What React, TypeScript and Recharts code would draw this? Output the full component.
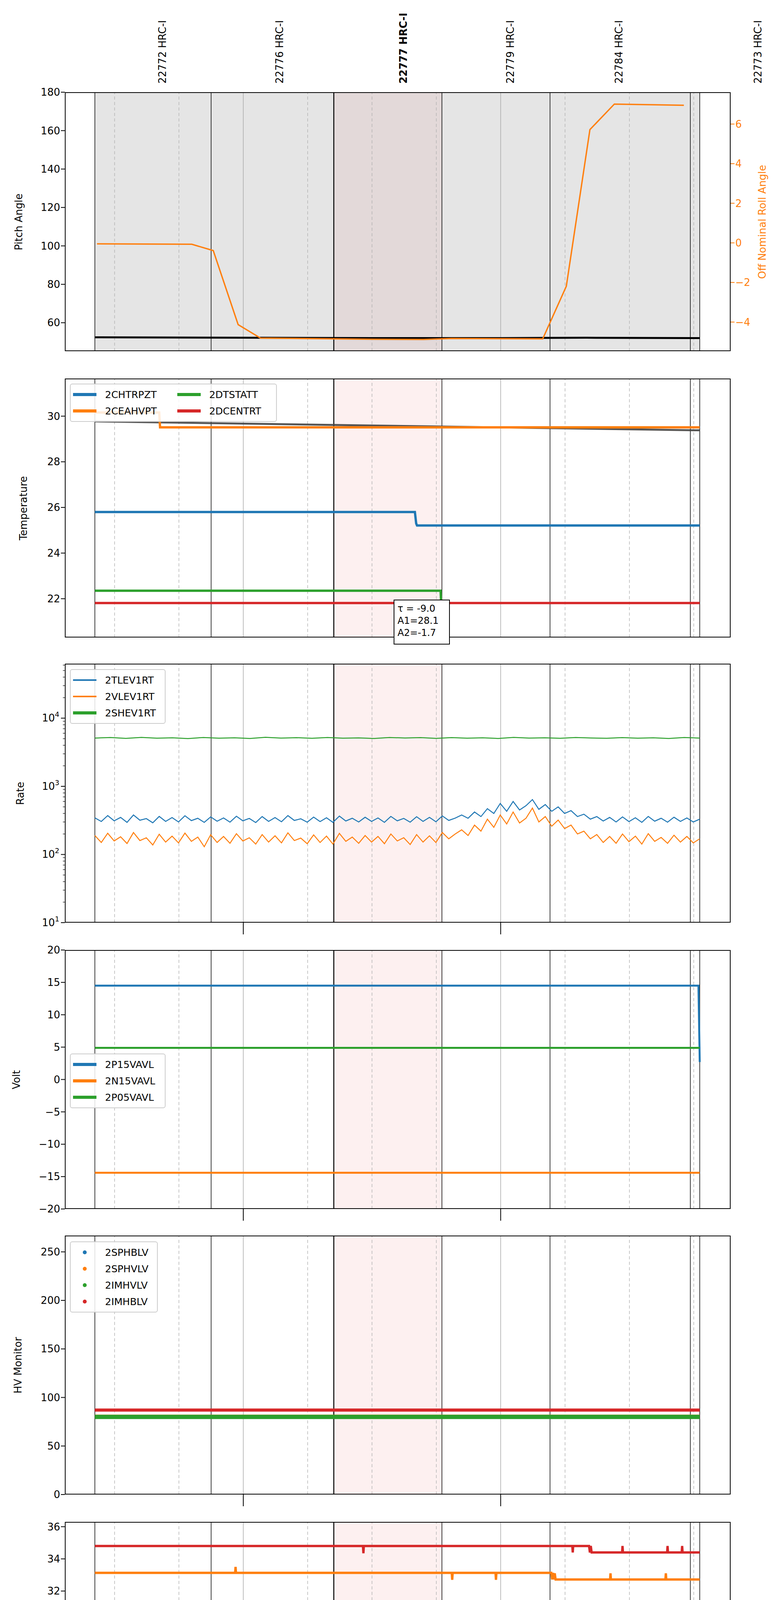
import React from "react";
import { ComposedChart, Line, XAxis, YAxis, ReferenceArea, ReferenceLine } from "recharts";

const F = "DejaVu Sans, sans-serif";
const T0 = 18.4;
const T1 = 173.6;
const LEFT = 166;
const PLOT_W = 1705;
const PANEL_H = 663;
const TOPS = [236, 969, 1699, 2432, 3163, 3896, 4628];

const C = { blue: "#1f77b4", orange: "#ff7f0e", green: "#2ca02c", red: "#d62728" };

// time in minutes after 22:00
const MINUTE_TICKS = [30, 45, 60, 75, 90, 105, 120, 135, 150, 165];
const OBS_LINES = [25.4, 52.5, 81.1, 106.3, 131.5, 164.2, 166.4];
const DATA_START = 25.4;
const DATA_END = 166.4;
const FOCUS = [81.1, 106.3];
const OBS_LABELS = ["22772 HRC-I", "22776 HRC-I", "22777 HRC-I", "22779 HRC-I", "22784 HRC-I", "22773 HRC-I"];
const OBS_LABEL_T = [41.2, 68.5, 97.3, 122.3, 147.6, 180];
const RATE_TICKS = [10, 20, 30, 40, 50, 60, 70, 80, 90, 100, 200, 300, 400, 500, 600, 700, 800, 900, 1000, 2000, 3000, 4000, 5000, 6000, 7000, 8000, 9000, 10000, 20000, 30000, 40000, 50000, 60000];

// pitch / roll
const pitch = [[25.4, 52.4], [60, 52.2], [90, 52.0], [120, 52.0], [140, 52.2], [166.4, 52.0]];
const roll = [[25.9, -0.05], [48.0, -0.07], [53.0, -0.39], [58.8, -4.13], [64.0, -4.81], [90.4, -4.87], [102, -4.88], [108.5, -4.83], [129.8, -4.85], [135.3, -2.19], [140.8, 5.72], [146.5, 7.01], [162.7, 6.95]];

// temperature
const tempRef = [[25.4, 29.77], [166.4, 29.38]];
const chtrpzt = [[25.4, 25.8], [100.0, 25.8], [100.3, 25.3], [100.5, 25.21], [166.4, 25.21]];
const ceahvpt = [[25.4, 30.16], [40.4, 30.16], [40.6, 29.51], [166.4, 29.51]];
const dtstatt = [[25.4, 22.35], [106.0, 22.35], [106.2, 21.4]];
const dcentrt = [[25.4, 21.81], [166.4, 21.81]];

// rates
const tlev1rt = [345,305,372,312,350,296,380,318,336,292,362,306,348,300,370,314,340,296,356,308,344,298,364,312,338,294,360,306,348,302,372,316,334,298,354,304,346,296,366,310,340,300,352,306,344,296,362,312,338,298,358,306,350,302,368,316,342,380,340,420,360,470,400,560,430,600,450,520,640,460,540,430,500,400,440,360,390,330,360,310,350,300,356,304,346,296,362,308,340,298,352,306,344,300,330];
const vlev1rt = [190,150,205,158,182,145,210,160,176,138,198,152,186,148,206,156,180,130,195,150,184,146,202,158,176,142,196,152,188,148,208,160,174,144,194,150,186,142,204,156,180,146,190,152,184,144,200,158,176,140,196,152,188,150,210,170,200,230,190,270,220,330,250,380,280,420,290,340,480,300,360,260,320,240,270,200,220,170,196,150,184,146,200,154,186,142,202,156,178,146,192,152,184,148,170];
const shev1rt = [5100,5200,5050,5220,5080,5160,5020,5210,5090,5150,5040,5230,5100,5170,5060,5200,5080,5140,5030,5210,5110,5180,5050,5190,5090,5160,5040,5220,5100,5150,5070,5200,5120,5060,5180,5090,5150,5040,5210,5100];

// volts
const p15vavl = [[25.4, 14.5], [166.1, 14.5], [166.4, 2.7]];
const n15vavl = [[25.4, -14.4], [166.4, -14.4]];
const p05vavl = [[25.4, 4.88], [166.4, 4.88]];

// HV monitor
const sphblv = [[25.4, 80], [166.4, 80]];
const sphvlv = [[25.4, 80.5], [166.4, 80.5]];
const imhvlv = [[25.4, 80], [166.4, 80]];
const imhblv = [[25.4, 87], [166.4, 87]];

// detector temp
const spinatm = [[25.4,23.15],[46.2,23.15],[46.3,22.4],[46.4,23.15],[55.8,23.15],[55.9,22.4],[56.0,23.15],[58.4,23.15],[58.5,22.4],[58.6,23.15],[59.9,23.15],[60.0,22.41],[60.5,23.15],[61.0,22.41],[61.5,23.15],[62.0,22.41],[62.5,23.15],[63.0,22.41],[63.5,23.15],[64.0,22.41],[65.5,22.41],[65.6,23.15],[65.7,22.41],[166.4,22.41]];
const sphvatm = [[25.4,33.13],[58.1,33.13],[58.2,33.5],[58.3,33.13],[108.6,33.13],[108.7,32.7],[108.8,33.13],[118.8,33.13],[118.9,32.7],[119.0,33.13],[131.8,33.13],[132.0,32.72],[132.2,33.13],[132.4,32.72],[132.6,33.1],[132.8,32.72],[145.5,32.72],[145.6,33.1],[145.7,32.72],[158.4,32.72],[158.5,33.1],[158.6,32.72],[166.4,32.72]];
const iminatm = [[25.4, 21.68], [166.4, 21.68]];
const imhvatm = [[25.4,34.8],[87.9,34.8],[88.0,34.35],[88.1,34.8],[136.7,34.8],[136.8,34.4],[136.9,34.8],[140.6,34.8],[140.8,34.4],[141.0,34.8],[141.2,34.4],[148.3,34.4],[148.4,34.8],[148.5,34.4],[158.8,34.4],[158.9,34.8],[159.0,34.4],[162.2,34.4],[162.3,34.8],[162.4,34.4],[166.4,34.4]];

// FEA temp
const fhtrmzt = [[25.4,24.04],[51.4,24.04],[51.7,23.47],[75.3,23.47],[75.5,22.8],[75.7,23.47],[76.0,23.47],[76.2,22.3],[76.4,23.47],[136.3,23.47],[136.6,22.91],[166.4,22.91]];
const fradpyt = [[25.4,18.65],[118.5,18.65],[118.7,18.14],[154.7,18.14],[154.9,17.66],[166.4,17.66]];
const fepratm = [[25.4,26.17],[89.6,26.17],[89.9,25.39],[166.4,25.39]];
const fe00atm = [[25.4,23.3],[28.8,23.3],[28.9,22.3],[29.0,23.3],[49.6,23.3],[49.7,22.9],[49.8,23.3],[51.0,23.3],[51.3,22.98],[53.3,22.98],[53.4,23.3],[53.5,22.98],[63.2,22.98],[63.3,23.3],[63.4,22.98],[77.8,22.98],[77.9,23.7],[78.0,22.98],[104.0,22.98],[104.1,22.6],[104.2,22.98],[108.9,22.98],[109.0,22.3],[109.1,22.98],[114.1,22.98],[114.2,22.3],[114.3,22.98],[115.3,22.98],[115.5,22.64],[117.0,22.64],[117.1,23.0],[117.3,22.64],[118.5,22.64],[118.6,23.0],[118.8,22.64],[120.0,22.64],[120.1,23.0],[120.3,22.64],[122.0,22.64],[122.1,23.0],[122.3,22.64],[124.5,22.64],[124.6,22.3],[124.7,22.64],[127.4,22.64],[127.5,23.3],[127.6,22.64],[128.8,22.64],[128.9,22.3],[129.0,22.64],[156.0,22.64],[156.1,22.0],[156.2,22.64],[163.4,22.64],[163.6,22.33],[166.4,22.33]];

const pts = (a: number[][]) => a.map(([t, v]) => ({ t, v }));
const sampled = (vals: number[]) =>
  vals.map((v, i) => ({ t: DATA_START + (i * (DATA_END - DATA_START)) / (vals.length - 1), v }));

function TimeTick(props: any) {
  const { x, y, payload, mode } = props;
  const v = payload.value;
  const major = v === 60 || v === 120;
  if (mode === "none") return <g />;
  if (mode === "marks") {
    return major ? <line x1={x} x2={x} y1={y} y2={y + 30} stroke="#000" strokeWidth={2} /> : <g />;
  }
  if (major) {
    return (
      <g>
        <line x1={x} x2={x} y1={y} y2={y + 30} stroke="#000" strokeWidth={2} />
        <text x={x} y={y + 58} textAnchor="middle" fontSize={27} fontFamily={F}>{v === 60 ? "23h" : "00h"}</text>
      </g>
    );
  }
  return (
    <text x={x} y={y + 24} textAnchor="middle" fontSize={19} fontFamily={F}>{String(v % 60).padStart(2, "0")}</text>
  );
}

function LogTick(props: any) {
  const { x, y, payload } = props;
  const lg = Math.log10(payload.value);
  const e = Math.round(lg);
  const decade = Math.abs(lg - e) < 1e-6;
  return (
    <g>
      <line x1={x - (decade ? 10 : 5)} x2={x} y1={y} y2={y} stroke="#000" strokeWidth={decade ? 2 : 1.2} />
      {decade && (
        <text x={x - 14} y={y + 9} textAnchor="end" fontSize={26} fontFamily={F}>
          10<tspan dy={-12} fontSize={18}>{e}</tspan>
        </text>
      )}
    </g>
  );
}

function background(top: boolean, yId: any = 0) {
  const els: any[] = [];
  if (top) els.push(<ReferenceArea key="g" yAxisId={yId} x1={DATA_START} x2={DATA_END} fill="#e5e5e5" fillOpacity={1} stroke="none" />);
  els.push(<ReferenceArea key="p" yAxisId={yId} x1={FOCUS[0]} x2={FOCUS[1]} fill={top ? "#e3d9d9" : "#fdf0f0"} fillOpacity={1} stroke="none" />);
  MINUTE_TICKS.forEach((t) => {
    const major = t === 60 || t === 120;
    els.push(<ReferenceLine key={"m" + t} yAxisId={yId} x={t} stroke={major ? "#aaa" : "#b5b5b5"} strokeWidth={1.5} strokeDasharray={major ? undefined : "8 6"} />);
  });
  OBS_LINES.forEach((t, i) => {
    els.push(<ReferenceLine key={"o" + t} yAxisId={yId} x={t} stroke="#000" strokeWidth={i === 2 ? 2.5 : 1.5} />);
  });
  return els;
}

function xAxis(mode: string) {
  return (
    <XAxis type="number" dataKey="t" domain={[T0, T1]} ticks={MINUTE_TICKS} interval={0} allowDataOverflow
      axisLine={false} tickLine={false} tickSize={0} tickMargin={0} height={mode === "full" ? 90 : 40}
      tick={<TimeTick mode={mode} />} />
  );
}

function yAxis(domain: number[], ticks: number[], extra: any = {}) {
  return (
    <YAxis domain={domain} ticks={ticks} allowDataOverflow width={80} axisLine={false} interval={0}
      tickSize={10} tickLine={{ stroke: "#000", strokeWidth: 2 }}
      tick={{ fontSize: 26, fill: "#000", fontFamily: F }} {...extra} />
  );
}

function line(data: any[], color: string, w: number, extra: any = {}) {
  return <Line data={data} dataKey="v" type="linear" stroke={color} strokeWidth={w} dot={false} isAnimationActive={false} {...extra} />;
}

function Frame({ i }: { i: number }) {
  return <div style={{ position: "absolute", left: LEFT, top: TOPS[i], width: PLOT_W, height: PANEL_H, border: "2.5px solid #000", boxSizing: "border-box", pointerEvents: "none" }} />;
}

function YLabel({ i, text, x = 50, color = "#000" }: { i: number; text: string; x?: number; color?: string }) {
  return (
    <div style={{ position: "absolute", left: x, top: TOPS[i] + PANEL_H / 2, fontFamily: F, fontSize: 26, color, whiteSpace: "nowrap", transform: "translate(-50%,-50%) rotate(-90deg)" }}>{text}</div>
  );
}

type Item = { name: string; color: string; dot?: boolean };
function Legend({ left, top, items, cols = 1, width }: { left: number; top: number; items: Item[]; cols?: number; width: number }) {
  return (
    <div style={{ position: "absolute", left, top, width, background: "rgba(255,255,255,0.85)", border: "2px solid #ccc", borderRadius: 6, padding: "8px 6px", boxSizing: "border-box", display: "grid", gridTemplateColumns: `repeat(${cols}, auto)`, rowGap: 6, columnGap: 20, fontFamily: F, fontSize: 25 }}>
      {items.map((it) => (
        <div key={it.name} style={{ display: "flex", alignItems: "center", height: 36 }}>
          {it.dot ? (
            <div style={{ width: 60, display: "flex", justifyContent: "center" }}>
              <div style={{ width: 10, height: 10, borderRadius: 5, background: it.color }} />
            </div>
          ) : (
            <div style={{ width: 60, height: it.name.includes("LEV") ? 4 : 8, background: it.color }} />
          )}
          <span style={{ marginLeft: 22 }}>{it.name}</span>
        </div>
      ))}
    </div>
  );
}

function Panel({ i, children, chartTop = 20, full = false, right = 129 }: any) {
  const bottom = full ? 110 : 60;
  const h = PANEL_H + chartTop + bottom;
  return (
    <div style={{ position: "absolute", left: 0, top: TOPS[i] - chartTop }}>
      <ComposedChart width={2000} height={h} margin={{ top: chartTop, right, bottom: bottom - (full ? 90 : 40), left: LEFT - 80 }}>
        {children}
      </ComposedChart>
    </div>
  );
}

function ObsLabel(props: any) {
  const { viewBox, text, bold } = props;
  const x = viewBox.x + 9;
  const y = TOPS[0] - 22;
  return (
    <text x={x} y={y} transform={`rotate(-90 ${x} ${y})`} fontSize={26} fontFamily={F} fontWeight={bold ? "bold" : "normal"}>{text}</text>
  );
}

const minusFmt = (v: number) => (v < 0 ? "\u2212" + Math.abs(v) : String(v));

export default function App() {
  return (
    <div style={{ position: "relative", margin: -8, width: 2000, height: 5400, background: "#fff", overflow: "hidden" }}>
      {/* Pitch / roll */}
      <Panel i={0} chartTop={236} right={49}>
        {background(true, "l")}
        {OBS_LABEL_T.map((t, k) => (
          <ReferenceLine key={"l" + k} yAxisId="l" x={t} stroke="none" ifOverflow="visible" label={<ObsLabel text={OBS_LABELS[k]} bold={k === 2} />} />
        ))}
        {xAxis("none")}
        {yAxis([45.2, 180], [60, 80, 100, 120, 140, 160, 180], { yAxisId: "l" })}
        <YAxis yAxisId="r" orientation="right" domain={[-5.47, 7.61]} ticks={[-4, -2, 0, 2, 4, 6]} allowDataOverflow width={80}
          axisLine={false} tickSize={10} tickLine={{ stroke: C.orange, strokeWidth: 2 }} tick={{ fontSize: 26, fill: C.orange, fontFamily: F }}
          tickFormatter={minusFmt} />
        {line(pts(pitch), "#000", 5, { yAxisId: "l" })}
        {line(pts(roll), C.orange, 3.5, { yAxisId: "r" })}
      </Panel>
      <Frame i={0} />
      <YLabel i={0} text="Pitch Angle" x={48} />
      <YLabel i={0} text="Off Nominal Roll Angle" x={1952} color={C.orange} />

      {/* Temperature */}
      <Panel i={1}>
        {background(false)}
        {xAxis("none")}
        {yAxis([20.3, 31.65], [22, 24, 26, 28, 30])}
        {line(pts(tempRef), "#444", 5, { strokeOpacity: 0.9 })}
        {line(pts(chtrpzt), C.blue, 6)}
        {line(pts(ceahvpt), C.orange, 6)}
        {line(pts(dtstatt), C.green, 6)}
        {line(pts(dcentrt), C.red, 6)}
      </Panel>
      <Frame i={1} />
      <YLabel i={1} text="Temperature" x={60} />
      <Legend left={179} top={982} width={530} cols={2} items={[
        { name: "2CHTRPZT", color: C.blue }, { name: "2DTSTATT", color: C.green },
        { name: "2CEAHVPT", color: C.orange }, { name: "2DCENTRT", color: C.red }]} />
      <div style={{ position: "absolute", left: 1008, top: 1535, width: 144, height: 115, border: "2.5px solid #000", background: "#fff", boxSizing: "border-box", fontFamily: F, fontSize: 24, lineHeight: "31px", padding: "6px 8px" }}>
        <div>τ = -9.0</div><div>A1=28.1</div><div>A2=-1.7</div>
      </div>

      {/* Rate */}
      <Panel i={2}>
        {background(false)}
        {xAxis("marks")}
        {yAxis([10, 63000], RATE_TICKS, { scale: "log", tick: <LogTick />, tickLine: false, tickSize: 0, tickMargin: 0 })}
        {line(sampled(tlev1rt), C.blue, 2.5)}
        {line(sampled(vlev1rt), C.orange, 2.5)}
        {line(sampled(shev1rt), C.green, 2.5)}
      </Panel>
      <Frame i={2} />
      <YLabel i={2} text="Rate" x={52} />
      <Legend left={179} top={1713} width={245} items={[
        { name: "2TLEV1RT", color: C.blue }, { name: "2VLEV1RT", color: C.orange }, { name: "2SHEV1RT", color: C.green }]} />

      {/* Volt */}
      <Panel i={3}>
        {background(false)}
        {xAxis("marks")}
        {yAxis([-20, 20], [-20, -15, -10, -5, 0, 5, 10, 15, 20], { tickFormatter: minusFmt })}
        {line(pts(p15vavl), C.blue, 5)}
        {line(pts(n15vavl), C.orange, 5)}
        {line(pts(p05vavl), C.green, 5)}
      </Panel>
      <Frame i={3} />
      <YLabel i={3} text="Volt" x={42} />
      <Legend left={179} top={2697} width={245} items={[
        { name: "2P15VAVL", color: C.blue }, { name: "2N15VAVL", color: C.orange }, { name: "2P05VAVL", color: C.green }]} />

      {/* HV monitor */}
      <Panel i={4}>
        {background(false)}
        {xAxis("marks")}
        {yAxis([0, 266.8], [0, 50, 100, 150, 200, 250])}
        {line(pts(sphblv), C.blue, 9)}
        {line(pts(sphvlv), C.orange, 9)}
        {line(pts(imhvlv), C.green, 11)}
        {line(pts(imhblv), C.red, 8)}
      </Panel>
      <Frame i={4} />
      <YLabel i={4} text="HV Monitor" x={46} />
      <Legend left={179} top={3178} width={225} items={[
        { name: "2SPHBLV", color: C.blue, dot: true }, { name: "2SPHVLV", color: C.orange, dot: true },
        { name: "2IMHVLV", color: C.green, dot: true }, { name: "2IMHBLV", color: C.red, dot: true }]} />

      {/* Detector temp */}
      <Panel i={5}>
        {background(false)}
        {xAxis("marks")}
        {yAxis([20.2, 36.3], [22, 24, 26, 28, 30, 32, 34, 36])}
        {line(pts(spinatm), C.blue, 6)}
        {line(pts(sphvatm), C.orange, 6)}
        {line(pts(iminatm), C.green, 6)}
        {line(pts(imhvatm), C.red, 6)}
      </Panel>
      <Frame i={5} />
      <YLabel i={5} text="Detector Temp" x={62} />
      <Legend left={179} top={4141} width={250} items={[
        { name: "2SPINATM", color: C.blue }, { name: "2SPHVATM", color: C.orange },
        { name: "2IMINATM", color: C.green }, { name: "2IMHVATM", color: C.red }]} />

      {/* FEA temp */}
      <Panel i={6} full>
        {background(false)}
        {xAxis("full")}
        {yAxis([16.65, 27.68], [18, 20, 22, 24, 26])}
        {line(pts(fhtrmzt), C.blue, 6)}
        {line(pts(fradpyt), C.orange, 6)}
        {line(pts(fepratm), C.green, 6)}
        {line(pts(fe00atm), C.red, 6)}
      </Panel>
      <Frame i={6} />
      <YLabel i={6} text="FEA Temp" x={60} />
      <Legend left={179} top={5101} width={252} items={[
        { name: "2FHTRMZT", color: C.blue }, { name: "2FRADPYT", color: C.orange },
        { name: "2FEPRATM", color: C.green }, { name: "2FE00ATM", color: C.red }]} />
      <div style={{ position: "absolute", left: LEFT, width: PLOT_W, top: 5360, textAlign: "center", fontFamily: F, fontSize: 30 }}>2020-03-23 (083)</div>
    </div>
  );
}
